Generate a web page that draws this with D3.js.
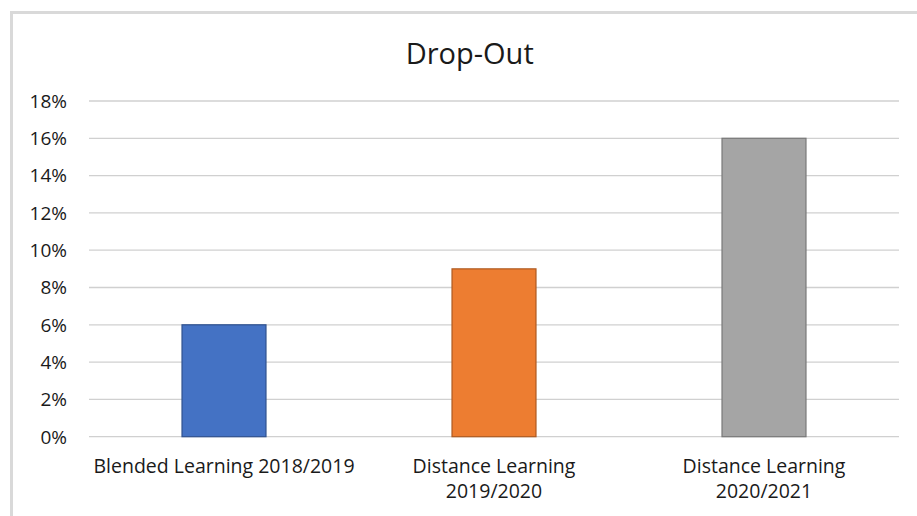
<!DOCTYPE html>
<html><head><meta charset="utf-8">
<script src="https://cdn.jsdelivr.net/npm/d3@7"></script>
<style>body{margin:0;background:#fff;}svg{display:block;font-family:"Open Sans",sans-serif;}</style>
</head><body>
<svg id="c" width="917" height="516"></svg>
<script>
const categories = [["Blended Learning 2018/2019"], ["Distance Learning", "2019/2020"], ["Distance Learning", "2020/2021"]];
const values = [6, 9, 16];
const colors = ["#4472C4", "#ED7D31", "#A5A5A5"];
const strokes = ["#2F528F", "#AE5A21", "#787878"];
const yTicks = [0, 2, 4, 6, 8, 10, 12, 14, 16, 18];
const title = "Drop-Out";

const svg = d3.select("#c");
// frame
svg.append("path").attr("d", "M11.5,520 V12.5 H930").attr("fill", "none").attr("stroke", "#d9d9d9").attr("stroke-width", 3);

const m = {left: 89, right: 899, top: 101, bottom: 436.7};
const x = d3.scaleBand().domain(d3.range(categories.length)).range([m.left, m.right]).paddingInner(0.689).paddingOuter(0.3445);
const y = d3.scaleLinear().domain([0, 18]).range([m.bottom, m.top]);

svg.append("g").selectAll("line").data(yTicks).join("line")
  .attr("x1", m.left).attr("x2", m.right)
  .attr("y1", d => y(d)).attr("y2", d => y(d))
  .attr("stroke", "#d0d0d0").attr("stroke-width", 1.3);

svg.append("g").selectAll("text").data(yTicks).join("text")
  .attr("x", 67).attr("y", d => y(d)).attr("dy", "0.36em")
  .attr("text-anchor", "end").attr("font-size", 19).attr("fill", "#1a1a1a")
  .text(d => d + "%");

svg.append("g").selectAll("rect").data(values).join("rect")
  .attr("x", (d, i) => x(i)).attr("width", x.bandwidth())
  .attr("y", d => y(d)).attr("height", d => y(0) - y(d))
  .attr("fill", (d, i) => colors[i]).attr("stroke", (d, i) => strokes[i]).attr("stroke-width", 1.2);

const lab = svg.append("g").selectAll("text").data(categories).join("text")
  .attr("x", (d, i) => x(i) + x.bandwidth() / 2).attr("y", 472.5)
  .attr("text-anchor", "middle").attr("font-size", 19.5).attr("fill", "#1a1a1a");
lab.selectAll("tspan").data(d => d).join("tspan")
  .attr("x", function() { return this.parentNode.getAttribute("x"); })
  .attr("dy", (d, i) => i === 0 ? 0 : 25.8).text(d => d);

svg.append("text").attr("x", 469.7).attr("y", 63.5).attr("text-anchor", "middle")
  .attr("font-size", 29).attr("fill", "#1a1a1a").text(title);
</script>
</body></html>
